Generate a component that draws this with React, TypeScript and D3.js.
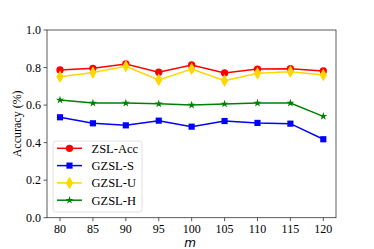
import { scaleLinear, line, symbol, symbolCircle, symbolSquare, symbolDiamond, symbolStar } from 'd3'

const mValues = [80, 85, 90, 95, 100, 105, 110, 115, 120]
const zslAcc = [0.787, 0.796, 0.819, 0.775, 0.814, 0.771, 0.792, 0.794, 0.782]
const gzslS = [0.535, 0.503, 0.492, 0.517, 0.485, 0.515, 0.505, 0.501, 0.418]
const gzslU = [0.751, 0.773, 0.807, 0.734, 0.792, 0.73, 0.769, 0.778, 0.76]
const gzslH = [0.627, 0.611, 0.611, 0.607, 0.6, 0.606, 0.611, 0.611, 0.54]
const yTicks = [0, 0.2, 0.4, 0.6, 0.8, 1.0]

const series = [
  { name: 'ZSL-Acc', values: zslAcc, color: '#ff0000', shape: symbolCircle, size: 42 },
  { name: 'GZSL-S', values: gzslS, color: '#0000ff', shape: symbolSquare, size: 38 },
  { name: 'GZSL-U', values: gzslU, color: '#ffd700', shape: symbolDiamond, size: 46 },
  { name: 'GZSL-H', values: gzslH, color: '#008000', shape: symbolStar, size: 20 },
]

export default function App() {
  const width = 374
  const height = 249
  const left = 47
  const right = 336
  const top = 30
  const bottom = 217.7

  const x = scaleLinear().domain([80, 120]).range([60, 323.3])
  const y = scaleLinear().domain([0, 1]).range([bottom, top])
  const font = '"Liberation Serif", "Times New Roman", serif'

  return (
    <svg width={width} height={height} style={{ position: 'absolute', left: 0, top: 0 }} fontFamily={font}>
      <rect x={0} y={0} width={width} height={height} fill="#fff" />

      {series.map((s) => {
        const path = line<number>()
          .x((_, i) => x(mValues[i]))
          .y((d) => y(d))(s.values)
        const sym = symbol().type(s.shape).size(s.size)()
        return (
          <g key={s.name}>
            <path d={path ?? ''} fill="none" stroke={s.color} strokeWidth={1.5} />
            {s.values.map((v, i) => (
              <path key={i} d={sym ?? ''} transform={`translate(${x(mValues[i])},${y(v)})`} fill={s.color} />
            ))}
          </g>
        )
      })}

      <rect x={left} y={top} width={right - left} height={bottom - top} fill="none" stroke="#333" strokeWidth={0.8} />

      {yTicks.map((t) => (
        <g key={`y-${t}`} transform={`translate(${left},${y(t)})`}>
          <line x1={-3.5} x2={0} stroke="#333" strokeWidth={0.8} />
          <text x={-6} dy="0.35em" textAnchor="end" fontSize={12} fill="#000">
            {t.toFixed(1)}
          </text>
        </g>
      ))}

      {mValues.map((m) => (
        <g key={`x-${m}`} transform={`translate(${x(m)},${bottom})`}>
          <line y1={0} y2={3.5} stroke="#333" strokeWidth={0.8} />
          <text y={15} textAnchor="middle" fontSize={12} fill="#000">
            {m}
          </text>
        </g>
      ))}

      <text x={190} y={246.5} textAnchor="middle" fontSize={12} fontStyle="italic" fontFamily='"DejaVu Sans", sans-serif' fill="#000">
        m
      </text>
      <text transform={`translate(17,${(top + bottom) / 2}) rotate(-90)`} textAnchor="middle" dy="0.35em" fontSize={12} fill="#000">
        Accuracy (%)
      </text>

      <g>
        <rect x={53} y={141} width={89} height={71} rx={2.5} fill="#fff" fillOpacity={0.8} stroke="#d9d9d9" strokeWidth={0.8} />
        {series.map((s, i) => {
          const ly = 148.3 + i * 17.3
          const sym = symbol().type(s.shape).size(s.size)()
          return (
            <g key={`leg-${s.name}`}>
              <line x1={57} x2={82} y1={ly} y2={ly} stroke={s.color} strokeWidth={1.5} />
              <path d={sym ?? ''} transform={`translate(69.5,${ly})`} fill={s.color} />
              <text x={91.5} y={ly} dy="0.35em" fontSize={12.5} fill="#000">
                {s.name}
              </text>
            </g>
          )
        })}
      </g>
    </svg>
  )
}
